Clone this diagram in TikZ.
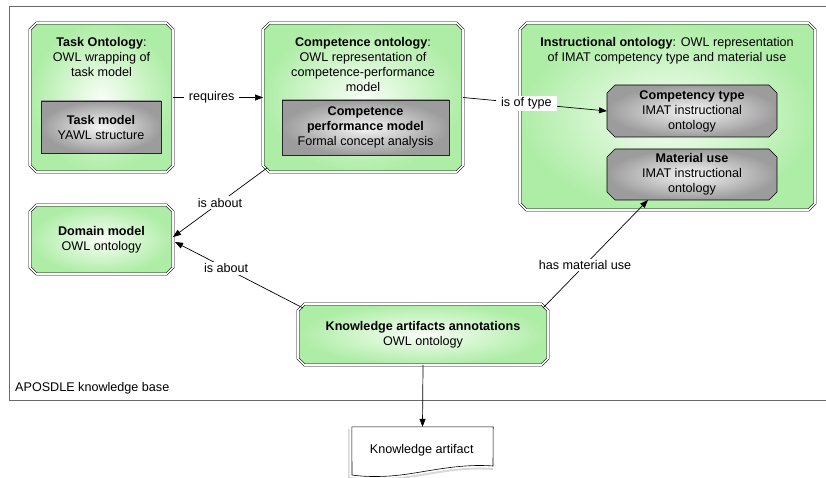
\documentclass[tikz,border=0pt]{standalone}
\usepackage{fontspec}
\setmainfont{Liberation Sans}
\usetikzlibrary{arrows.meta,calc,backgrounds}
\definecolor{gin}{HTML}{F8FEF6}
\definecolor{gout}{HTML}{AEEDA6}
\definecolor{grin}{HTML}{F6F6F6}
\definecolor{grout}{HTML}{9C9C9C}
\definecolor{framecol}{HTML}{6A6A6A}
% octagon drawn around a named node: style, node name, chamfer
\newcommand\octdraw[3]{%
  \path[#1] ($(#2.north west)+(#3,0)$) -- ($(#2.north east)+(-#3,0)$) -- ($(#2.north east)+(0,#3)$)
    -- ($(#2.south east)+(0,-#3)$) -- ($(#2.south east)+(-#3,0)$) -- ($(#2.south west)+(#3,0)$)
    -- ($(#2.south west)+(0,-#3)$) -- ($(#2.north west)+(0,#3)$) -- cycle;}
\begin{document}
\begin{tikzpicture}[x=1pt,y=-1pt,
  font=\fontsize{12.6}{15}\selectfont,
  box/.style={rectangle, align=center, inner sep=0pt, outer sep=1.5pt},
  greenfill/.style={inner color=gin, outer color=gout},
  greenline/.style={draw=black, line width=0.6pt, double=white, double distance=1.6pt},
  grayfill/.style={inner color=grin, outer color=grout},
  grayline/.style={draw=black, line width=0.6pt},
  grayrect/.style={rectangle, draw=black!85, line width=0.6pt, inner color=grin, outer color=grout,
    align=center, inner sep=0pt},
  txt/.style={align=center, inner sep=0pt},
  conn/.style={draw=black, line width=0.7pt, -{Triangle[length=8pt,width=6pt]}},
  lbl/.style={fill=white, inner xsep=5pt, inner ysep=1.5pt},
]
\useasboundingbox (0,0) rectangle (826,478);
% knowledge base frame
\draw[framecol, line width=0.9pt] (826,6) -- (9,6) -- (9,400.5) -- (826,400.5);
\node[txt, anchor=west] (kb) at (15,388.5) {APOSDLE knowledge base};

% outer (green) boxes
\node[box, minimum width=140pt, minimum height=146pt] (taskont) at (101.5,97.5) {};
\node[box, minimum width=197pt, minimum height=146pt] (compont) at (363,97.5) {};
\node[box, minimum width=292pt, minimum height=184pt] (instont) at (667.5,116.5) {};
\node[box, minimum width=140pt, minimum height=66pt] (domain) at (101.5,239.5)
  {\textbf{Domain model}\\OWL ontology};
\node[box, minimum width=247pt, minimum height=58pt] (kaa) at (423,334.5)
  {\textbf{Knowledge artifacts annotations}\\OWL ontology};

% titles of the container boxes
\node[txt] (taskont-t) at (101.5,57) {\textbf{Task Ontology}:\\OWL wrapping of\\task model};
\node[txt] (compont-t) at (363,64) {\textbf{Competence ontology}:\\OWL representation of\\competence-performance\\model};
\node[txt] (instont-t) at (667,50.5) {\textbf{Instructional ontology}: OWL representation\\of IMAT competency type and material use};

% inner (gray) boxes
\node[grayrect, minimum width=120pt, minimum height=52pt] (taskmodel) at (101,127)
  {\textbf{Task model}\\YAWL structure};
\node[grayrect, minimum width=167pt, minimum height=55pt] (cpm) at (365.5,127.5)
  {\textbf{Competence}\\\textbf{performance model}\\Formal concept analysis};
\node[box, outer sep=0pt, minimum width=170pt, minimum height=52pt] (comptype) at (692,111)
  {\textbf{Competency type}\\IMAT instructional\\ontology};
\node[box, outer sep=0pt, minimum width=170pt, minimum height=51pt] (matuse) at (692,174.5)
  {\textbf{Material use}\\IMAT instructional\\ontology};

\begin{pgfonlayer}{background}
  \foreach \n in {taskont,compont,instont,domain,kaa}{
    \octdraw{greenfill}{\n}{6.5}
    \octdraw{greenline}{\n}{6.5}
  }
  \foreach \n in {comptype,matuse}{
    \octdraw{grayfill}{\n}{8}
    \octdraw{grayline}{\n}{8}
  }
\end{pgfonlayer}

% knowledge artifact (document shape)
\node[rectangle, minimum width=141pt, minimum height=49pt, inner sep=0pt] (doc) at (422.5,451.5) {};
\fill[black, opacity=0.15] (349.5,429) -- (349.5,477) .. controls (362,478.5) and (376,479) .. (390,478)
  .. controls (420,476) and (455,465) .. (493,468) -- (493,470) .. controls (455,467) and (420,478) .. (390,480)
  .. controls (372,481) and (358,480) .. (348,479) -- (348,429) -- cycle;
\draw[black, line width=0.6pt, fill=white] (doc.north west) -- (doc.north east) -- (493,466)
  .. controls (455,463) and (420,474) .. (390,476)
  .. controls (375,477) and (362,476.5) .. (352,475) -- cycle;
\node[txt] (doc-t) at (421.7,450.7) {Knowledge artifact};

% connectors
\draw[conn] (taskont) -- node[lbl, pos=0.43] (l1) {requires} (compont);
\draw[conn] (compont.east) -- node[lbl, pos=0.44] (l2) {is of type} (comptype.west);
\draw[conn] ($(compont.south west)+(4,-4)$) -- node[lbl, pos=0.5] (l3) {is about} ($(domain.east)+(0,-2.5)$);
\draw[conn] ($(kaa.north west)+(5,4)$) -- node[lbl, pos=0.6] (l4) {is about} ($(domain.east)+(2,2.5)$);
\draw[conn] ($(kaa.north east)+(-5,4)$) -- node[lbl, pos=0.4] (l5) {has material use} ($(matuse.south)+(-44,0)$);
\draw[conn] (kaa.south) -- (doc.north);
\end{tikzpicture}
\end{document}
